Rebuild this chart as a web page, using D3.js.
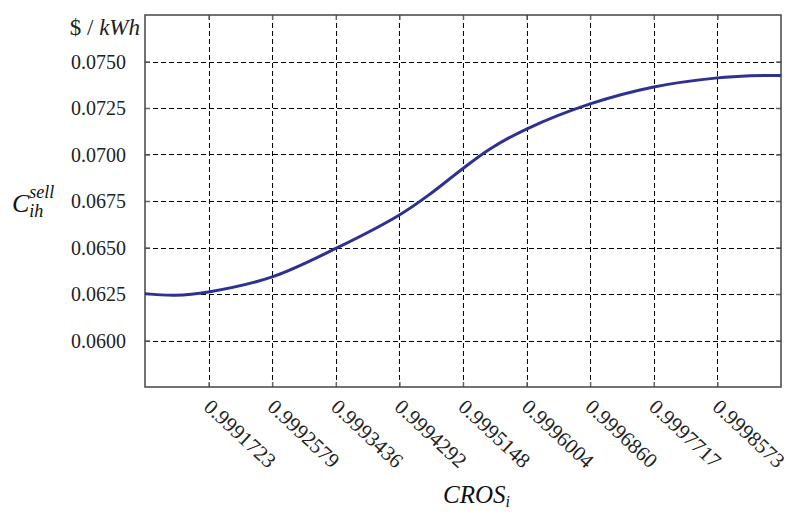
<!DOCTYPE html>
<html>
<head>
<meta charset="utf-8">
<script src="https://cdn.jsdelivr.net/npm/d3@7"></script>
<style>
  body { margin: 0; background: #fff; }
  svg text { font-family: "Liberation Serif", "DejaVu Serif", "Times New Roman", serif; }
</style>
</head>
<body>
<svg id="chart"></svg>
<script>
// x values of the curve (CROS_i)
const crosValues = [0.9990867, 0.9991271, 0.9991723, 0.9992579, 0.9993436, 0.9994292,
  0.9994720, 0.9995148, 0.9995512, 0.9996004, 0.9996860, 0.9997717, 0.9998573, 0.9999018, 0.9999430];
// price values ($/kWh)
const priceValues = [0.06252, 0.06243, 0.06261, 0.06342, 0.06495, 0.06675,
  0.06792, 0.06925, 0.07030, 0.07137, 0.07272, 0.07363, 0.07412, 0.07424, 0.07425];
// tick labels
const xTicks = [0.9991723, 0.9992579, 0.9993436, 0.9994292, 0.9995148, 0.9996004, 0.9996860, 0.9997717, 0.9998573];
const xTickLabels = ['0.9991723', '0.9992579', '0.9993436', '0.9994292', '0.9995148', '0.9996004', '0.9996860', '0.9997717', '0.9998573'];
const yTicks = [0.0600, 0.0625, 0.0650, 0.0675, 0.0700, 0.0725, 0.0750];

const data = crosValues.map((x, i) => ({ x, y: priceValues[i] }));

const width = 790, height = 515;
const margin = { top: 15, right: 9, bottom: 128, left: 145 };
const serif = '"Liberation Serif", "DejaVu Serif", serif';

const svg = d3.select('#chart')
  .attr('width', width)
  .attr('height', height);

const xScale = d3.scaleLinear()
  .domain([0.9990867, 0.9999430])
  .range([margin.left, width - margin.right]);

const yScale = d3.scaleLinear()
  .domain([0.0575, 0.0775])
  .range([height - margin.bottom, margin.top]);

const x0 = margin.left, x1 = width - margin.right;
const y0 = height - margin.bottom, y1 = margin.top;

// dashed grid
svg.append('g')
  .selectAll('line')
  .data(yTicks)
  .join('line')
  .attr('x1', x0).attr('x2', x1)
  .attr('y1', d => Math.round(yScale(d)) + 0.5)
  .attr('y2', d => Math.round(yScale(d)) + 0.5)
  .attr('stroke', '#000')
  .attr('stroke-width', 1)
  .attr('stroke-dasharray', '5,3');

svg.append('g')
  .selectAll('line')
  .data(xTicks)
  .join('line')
  .attr('x1', d => Math.round(xScale(d)) + 0.5)
  .attr('x2', d => Math.round(xScale(d)) + 0.5)
  .attr('y1', y1).attr('y2', y0)
  .attr('stroke', '#000')
  .attr('stroke-width', 1)
  .attr('stroke-dasharray', '5,3');

// axes with inward ticks
const yAxis = svg.append('g')
  .attr('transform', `translate(${x0}, 0)`)
  .call(d3.axisRight(yScale).tickValues(yTicks).tickSize(5).tickFormat(''));
const yAxisR = svg.append('g')
  .attr('transform', `translate(${x1}, 0)`)
  .call(d3.axisLeft(yScale).tickValues(yTicks).tickSize(5).tickFormat(''));
const xAxis = svg.append('g')
  .attr('transform', `translate(0, ${y0})`)
  .call(d3.axisTop(xScale).tickValues(xTicks).tickSize(5).tickFormat(''));
const xAxisT = svg.append('g')
  .attr('transform', `translate(0, ${y1})`)
  .call(d3.axisBottom(xScale).tickValues(xTicks).tickSize(5).tickFormat(''));
[yAxis, yAxisR, xAxis, xAxisT].forEach(g => {
  g.select('.domain').remove();
  g.selectAll('.tick line').attr('stroke', '#666').attr('stroke-width', 1.5);
});

// frame
svg.append('rect')
  .attr('x', x0).attr('y', y1)
  .attr('width', x1 - x0).attr('height', y0 - y1)
  .attr('fill', 'none')
  .attr('stroke', '#444')
  .attr('stroke-width', 1.5);

// y tick labels
svg.append('g')
  .selectAll('text')
  .data(yTicks)
  .join('text')
  .attr('x', 126)
  .attr('y', d => yScale(d))
  .attr('dy', '0.35em')
  .attr('text-anchor', 'end')
  .attr('font-family', serif)
  .attr('font-size', 20)
  .attr('fill', '#222')
  .text(d => d3.format('.4f')(d));

// x tick labels (rotated)
svg.append('g')
  .selectAll('text')
  .data(xTicks)
  .join('text')
  .attr('transform', d => `translate(${xScale(d) - 1}, ${y0 + 16}) rotate(43)`)
  .attr('text-anchor', 'start')
  .attr('dy', '0.35em')
  .attr('font-family', serif)
  .attr('font-size', 21)
  .attr('fill', '#222')
  .text((d, i) => xTickLabels[i]);

// curve
const line = d3.line()
  .x(d => xScale(d.x))
  .y(d => yScale(d.y))
  .curve(d3.curveCatmullRom.alpha(0.5));

svg.append('path')
  .datum(data)
  .attr('d', line)
  .attr('fill', 'none')
  .attr('stroke', '#2e3192')
  .attr('stroke-width', 3);

// unit label
const unit = svg.append('text')
  .attr('x', 140).attr('y', 35)
  .attr('text-anchor', 'end')
  .attr('font-family', serif)
  .attr('font-size', 23)
  .attr('fill', '#222');
unit.append('tspan').text('$ / ');
unit.append('tspan').attr('font-style', 'italic').text('kWh');

// y axis title
const yt = svg.append('text')
  .attr('x', 12).attr('y', 212)
  .attr('font-family', serif)
  .attr('font-style', 'italic')
  .attr('font-size', 26)
  .attr('fill', '#111');
yt.append('tspan').text('C');
yt.append('tspan').attr('font-size', 18).attr('dy', 5).text('ih');
yt.append('tspan').attr('font-size', 18).attr('dx', -14).attr('dy', -19).text('sell');

// x axis title
const xt = svg.append('text')
  .attr('x', 443).attr('y', 503)
  .attr('font-family', serif)
  .attr('font-style', 'italic')
  .attr('font-size', 25)
  .attr('fill', '#111');
xt.append('tspan').text('CROS');
xt.append('tspan').attr('font-size', 16).attr('dy', 4).text('i');
</script>
</body>
</html>
